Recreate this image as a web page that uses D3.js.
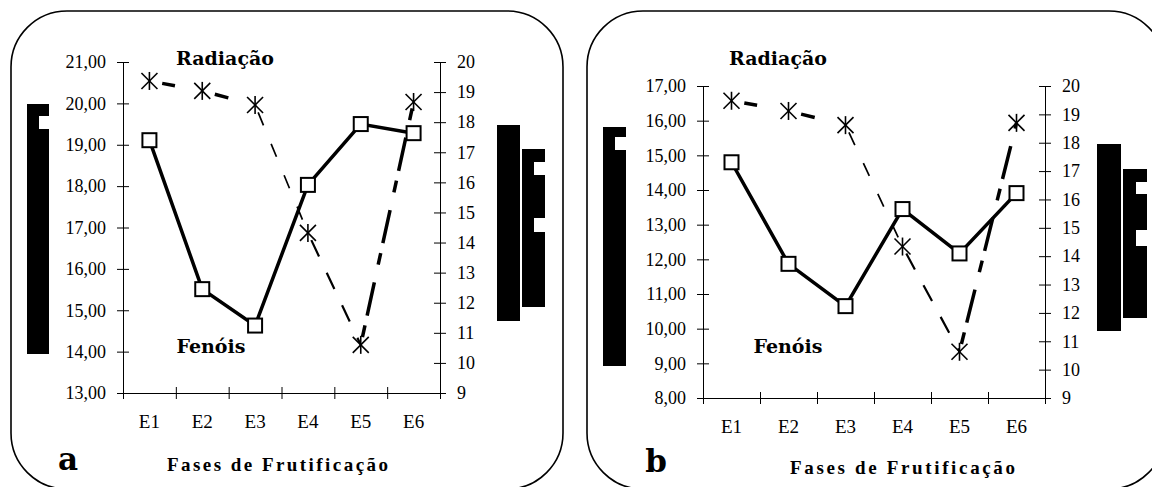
<!DOCTYPE html>
<html>
<head>
<meta charset="utf-8">
<script src="https://cdn.jsdelivr.net/npm/d3@7"></script>
<style>
  body { margin: 0; background: #fff; }
  svg { display: block; }
  .tick text { font-family: "Liberation Serif", serif; fill: #000; }
  .tick line, .domain { stroke: #000; }
</style>
</head>
<body>
<div class="canvas"></div>
<script>
// data
const categories = ['E1', 'E2', 'E3', 'E4', 'E5', 'E6'];
const fenoisA = [19.11, 15.51, 14.63, 18.03, 19.50, 19.28];
const radiacaoA = [19.37, 19.04, 18.57, 14.32, 10.60, 18.67];
const fenoisB = [14.80, 11.87, 10.65, 13.45, 12.17, 13.91];
const radiacaoB = [19.48, 19.12, 18.62, 14.34, 10.63, 18.70];
const leftTicksA = [13, 14, 15, 16, 17, 18, 19, 20, 21];
const leftTicksB = [8, 9, 10, 11, 12, 13, 14, 15, 16, 17];
const rightTicks = [9, 10, 11, 12, 13, 14, 15, 16, 17, 18, 19, 20];
const xTitle = 'Fases de Frutificação';

const dims = { width: 1152, height: 487 };

const svg = d3.select('.canvas')
    .append('svg')
    .attr('width', dims.width)
    .attr('height', dims.height);

// style of each radiação segment (the original mixes them)
const segStyles = [
    { w: 3.5, dash: '0,13,13,100' },
    { w: 3.5, dash: '0,13,14,100' },
    { w: 1.7, dash: '0,8,14,12' },
    { w: 2.2, dash: '0,8,18,10' },
    { w: 3.5, dash: '0,8,12,10,34,10' }
];

const panels = [
    {
        box: { x: 11, y: 11, w: 552, h: 478 },
        plot: { left: 123, right: 440, top: 62, bottom: 393 },
        leftTicks: leftTicksA, fenois: fenoisA, radiacao: radiacaoA,
        radLabel: [225, 65], fenLabel: [211, 353],
        letter: 'a', letterPos: [68, 470], titlePos: [167, 471, 221],
        bars: [
            { x: 27, y: 104, w: 22, h: 250, notches: [{ x: 39, y: 116, w: 10, h: 13 }] },
            { x: 497, y: 125, w: 23, h: 196, notches: [] },
            { x: 522, y: 149, w: 23, h: 158, notches: [{ x: 534, y: 162, w: 11, h: 13 }, { x: 534, y: 218, w: 11, h: 14 }] }
        ]
    },
    {
        box: { x: 587, y: 11, w: 578, h: 478 },
        plot: { left: 703, right: 1045, top: 86, bottom: 398 },
        leftTicks: leftTicksB, fenois: fenoisB, radiacao: radiacaoB,
        radLabel: [778, 65], fenLabel: [788, 353],
        letter: 'b', letterPos: [656, 472], titlePos: [790, 474, 225],
        bars: [
            { x: 603, y: 127, w: 23, h: 239, notches: [{ x: 615, y: 137, w: 11, h: 13 }] },
            { x: 1097, y: 144, w: 24, h: 187, notches: [] },
            { x: 1123, y: 169, w: 24, h: 149, notches: [{ x: 1136, y: 182, w: 11, h: 12 }, { x: 1136, y: 230, w: 11, h: 16 }] }
        ]
    }
];

const comma = d => d3.format('.2f')(d).replace('.', ',');

// asterisk marker: X plus a vertical bar
const star = (g, r) => {
    g.append('line').attr('x1', -r).attr('y1', -r).attr('x2', r).attr('y2', r);
    g.append('line').attr('x1', -r).attr('y1', r).attr('x2', r).attr('y2', -r);
    g.append('line').attr('x1', 0).attr('y1', -r - 1).attr('x2', 0).attr('y2', r + 1);
};

const drawPanel = (p) => {
    const g = svg.append('g');

    // rounded frame
    g.append('rect')
        .attr('x', p.box.x).attr('y', p.box.y)
        .attr('width', p.box.w).attr('height', p.box.h)
        .attr('rx', 56).attr('ry', 56)
        .attr('fill', 'none')
        .attr('stroke', '#000')
        .attr('stroke-width', 1.6);

    // black blocks (remains of the legend)
    p.bars.forEach(b => {
        g.append('rect').attr('x', b.x).attr('y', b.y).attr('width', b.w).attr('height', b.h).attr('fill', '#000');
        b.notches.forEach(n => {
            g.append('rect').attr('x', n.x).attr('y', n.y).attr('width', n.w).attr('height', n.h).attr('fill', '#fff');
        });
    });

    const x = d3.scaleBand()
        .domain(categories)
        .range([p.plot.left, p.plot.right]);

    const xEdges = d3.scaleLinear()
        .domain([0, categories.length])
        .range([p.plot.left, p.plot.right]);

    const yLeft = d3.scaleLinear()
        .domain(d3.extent(p.leftTicks))
        .range([p.plot.bottom, p.plot.top]);

    const yRight = d3.scaleLinear()
        .domain(d3.extent(rightTicks))
        .range([p.plot.bottom, p.plot.top]);

    // left axis
    const leftAxis = g.append('g')
        .attr('transform', `translate(${p.plot.left},0)`)
        .call(d3.axisLeft(yLeft).tickValues(p.leftTicks).tickFormat(comma)
            .tickSize(6).tickSizeOuter(0).tickPadding(11));
    leftAxis.selectAll('.tick line').attr('x1', 6);
    leftAxis.selectAll('.tick text').attr('font-size', 18);

    // right axis
    const rightAxis = g.append('g')
        .attr('transform', `translate(${p.plot.right},0)`)
        .call(d3.axisRight(yRight).tickValues(rightTicks)
            .tickSize(6).tickSizeOuter(0).tickPadding(11));
    rightAxis.selectAll('.tick line').attr('x1', -6);
    rightAxis.selectAll('.tick text').attr('font-size', 18);

    // bottom axis: ticks on band edges, labels on band centres
    const edgeAxis = g.append('g')
        .attr('transform', `translate(0,${p.plot.bottom})`)
        .call(d3.axisBottom(xEdges).ticks(categories.length).tickFormat('')
            .tickSize(6).tickSizeOuter(0));
    edgeAxis.selectAll('.tick line').attr('y1', -6);

    const catAxis = g.append('g')
        .attr('transform', `translate(0,${p.plot.bottom})`)
        .call(d3.axisBottom(x).tickSize(0).tickPadding(22));
    catAxis.select('.domain').remove();
    catAxis.selectAll('.tick text').attr('font-size', 19);

    // radiação: one path per segment
    const radPts = p.radiacao.map((v, i) => [x(categories[i]) + x.bandwidth() / 2, yRight(v)]);
    const line = d3.line();
    d3.pairs(radPts).forEach((pair, i) => {
        g.append('path')
            .attr('d', line(pair))
            .attr('fill', 'none')
            .attr('stroke', '#000')
            .attr('stroke-width', segStyles[i].w)
            .attr('stroke-dasharray', segStyles[i].dash);
    });

    // fenóis: solid line
    const fenPts = p.fenois.map((v, i) => [x(categories[i]) + x.bandwidth() / 2, yLeft(v)]);
    g.append('path')
        .attr('d', line(fenPts))
        .attr('fill', 'none')
        .attr('stroke', '#000')
        .attr('stroke-width', 3.5)
        .attr('stroke-linejoin', 'miter');

    g.selectAll('.star')
        .data(radPts)
        .enter().append('g')
        .attr('class', 'star')
        .attr('transform', d => `translate(${d[0]},${d[1]})`)
        .attr('stroke', '#000')
        .attr('stroke-width', 1.6)
        .each(function() { star(d3.select(this), 8); });

    g.selectAll('.sq')
        .data(fenPts)
        .enter().append('rect')
        .attr('class', 'sq')
        .attr('x', d => d[0] - 7)
        .attr('y', d => d[1] - 7)
        .attr('width', 14)
        .attr('height', 14)
        .attr('fill', '#fff')
        .attr('stroke', '#000')
        .attr('stroke-width', 2);

    // series names
    g.append('text')
        .attr('x', p.radLabel[0]).attr('y', p.radLabel[1])
        .attr('text-anchor', 'middle')
        .attr('font-family', '"DejaVu Serif", serif')
        .attr('font-weight', 'bold')
        .attr('font-size', 19)
        .text('Radiação');

    g.append('text')
        .attr('x', p.fenLabel[0]).attr('y', p.fenLabel[1])
        .attr('text-anchor', 'middle')
        .attr('font-family', '"DejaVu Serif", serif')
        .attr('font-weight', 'bold')
        .attr('font-size', 19)
        .text('Fenóis');

    // axis title, spread out
    g.append('text')
        .attr('x', p.titlePos[0]).attr('y', p.titlePos[1])
        .attr('textLength', p.titlePos[2])
        .attr('lengthAdjust', 'spacing')
        .attr('font-family', '"Liberation Serif", serif')
        .attr('font-weight', 'bold')
        .attr('font-size', 19)
        .text(xTitle);

    // panel letter
    g.append('text')
        .attr('x', p.letterPos[0]).attr('y', p.letterPos[1])
        .attr('text-anchor', 'middle')
        .attr('font-family', '"DejaVu Serif", serif')
        .attr('font-weight', 'bold')
        .attr('font-size', 31)
        .text(p.letter);
};

panels.forEach(drawPanel);
</script>
</body>
</html>
